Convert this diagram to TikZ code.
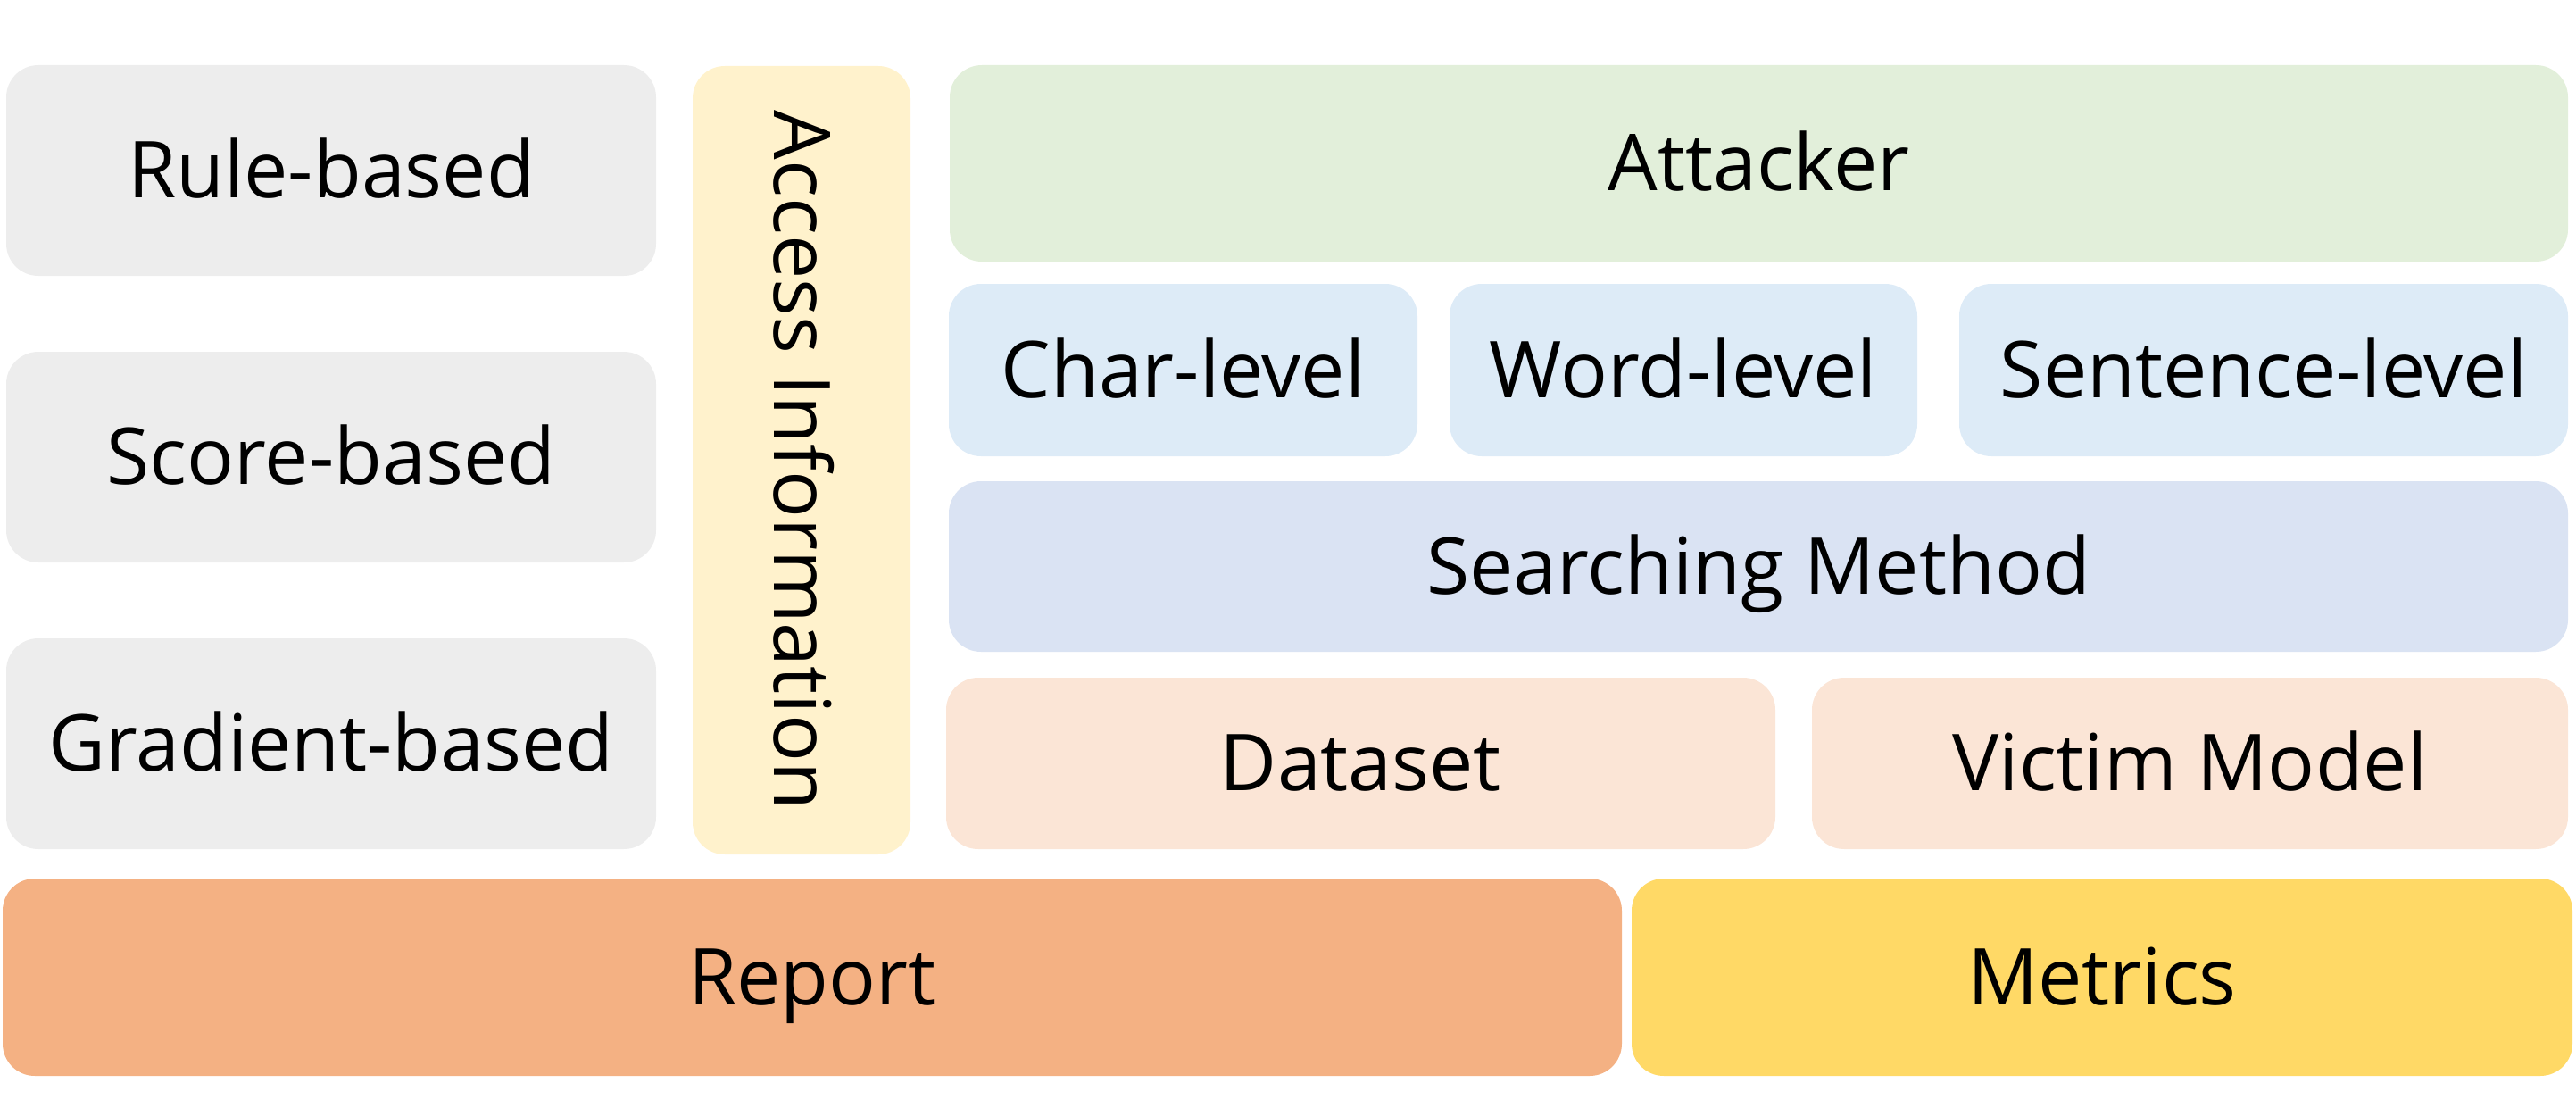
\documentclass[tikz,border=0pt]{standalone}
\usepackage{fontspec}
\setmainfont{Open Sans}
\usepackage{tikz}
\usetikzlibrary{positioning}
\definecolor{grayfill}{HTML}{EDEDED}
\definecolor{accessfill}{HTML}{FFF2CC}
\definecolor{attackfill}{HTML}{E2EFDA}
\definecolor{levelfill}{HTML}{DDEBF7}
\definecolor{searchfill}{HTML}{DAE3F3}
\definecolor{datafill}{HTML}{FBE5D6}
\definecolor{reportfill}{HTML}{F4B183}
\definecolor{metricfill}{HTML}{FFD966}
\tikzset{
  block/.style={rounded corners=0.36cm, inner sep=0pt, align=center,
    text height=24pt, text depth=6.4pt,
    font=\fontsize{25}{30}\selectfont},
}

\begin{document}
\begin{tikzpicture}
	\useasboundingbox (0,0) rectangle (28.86,12.40);

	% access types
	\node[block, fill=grayfill, minimum width=7.28cm, minimum height=2.36cm] (rule) at (3.71,10.49) {Rule-based};
	\node[block, fill=grayfill, minimum width=7.28cm, minimum height=2.36cm] (score) at (3.71,7.28) {Score-based};
	\node[block, fill=grayfill, minimum width=7.28cm, minimum height=2.36cm] (grad) at (3.71,4.07) {Gradient-based};

	% access information bar
	\node[block, fill=accessfill, minimum width=8.83cm, minimum height=2.44cm, rotate=-90] (access) at (8.98,7.245) {Access Information};

	% attacker and its parts
	\node[block, fill=attackfill, minimum width=18.13cm, minimum height=2.20cm] (attacker) at (19.705,10.57) {Attacker};
	\node[block, fill=levelfill, minimum width=5.25cm, minimum height=1.93cm] (char) at (13.255,8.255) {Char-level};
	\node[block, fill=levelfill, minimum width=5.24cm, minimum height=1.93cm] (word) at (18.86,8.255) {Word-level};
	\node[block, fill=levelfill, minimum width=6.82cm, minimum height=1.93cm] (sent) at (25.36,8.255) {Sentence-level};
	\node[block, fill=searchfill, minimum width=18.14cm, minimum height=1.91cm] (search) at (19.70,6.055) {Searching Method};
	\node[block, fill=datafill, minimum width=9.29cm, minimum height=1.92cm] (data) at (15.245,3.85) {Dataset};
	\node[block, fill=datafill, minimum width=8.47cm, minimum height=1.92cm] (victim) at (24.535,3.85) {Victim Model};

	% output row
	\node[block, fill=reportfill, minimum width=18.14cm, minimum height=2.21cm] (report) at (9.10,1.455) {Report};
	\node[block, fill=metricfill, minimum width=10.54cm, minimum height=2.21cm] (metrics) at (23.55,1.455) {Metrics};
\end{tikzpicture}
\end{document}
